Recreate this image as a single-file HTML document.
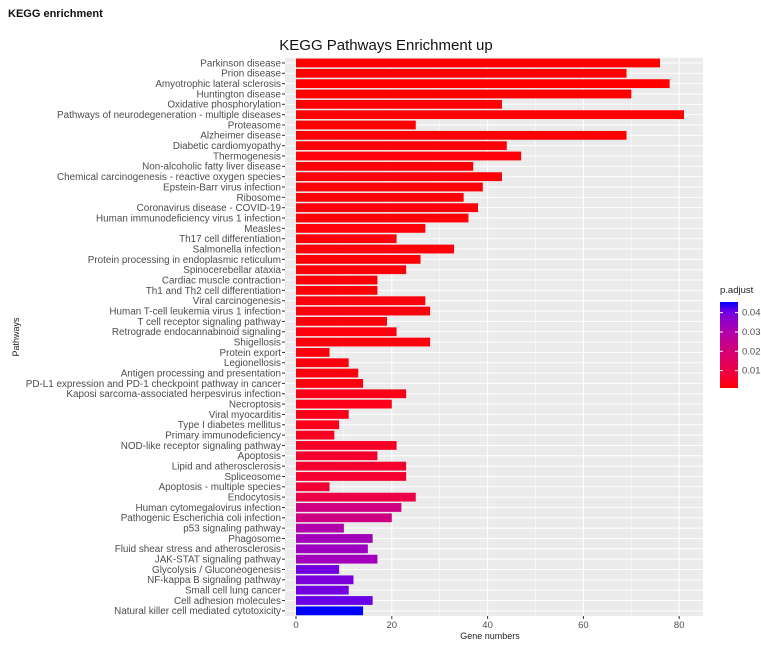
<!DOCTYPE html>
<html><head><meta charset="utf-8"><style>
body{margin:0;background:#fff;font-family:"Liberation Sans",sans-serif}
svg text{font-family:"Liberation Sans",sans-serif}
</style></head><body>
<svg id="c" width="761" height="667" xmlns="http://www.w3.org/2000/svg">
<text x="8" y="17" font-size="11" font-weight="bold" fill="#111">KEGG enrichment</text>
<text x="386" y="50" font-size="15" text-anchor="middle" fill="#111">KEGG Pathways Enrichment up</text>
<g id="plot"></g>
<text x="490" y="639" font-size="9" text-anchor="middle" fill="#222">Gene numbers</text>
<text transform="translate(19,337) rotate(-90)" font-size="9" text-anchor="middle" fill="#222">Pathways</text>
<g id="legend"></g>
</svg>
<script>
const pathways=["Parkinson disease","Prion disease","Amyotrophic lateral sclerosis","Huntington disease","Oxidative phosphorylation","Pathways of neurodegeneration - multiple diseases","Proteasome","Alzheimer disease","Diabetic cardiomyopathy","Thermogenesis","Non-alcoholic fatty liver disease","Chemical carcinogenesis - reactive oxygen species","Epstein-Barr virus infection","Ribosome","Coronavirus disease - COVID-19","Human immunodeficiency virus 1 infection","Measles","Th17 cell differentiation","Salmonella infection","Protein processing in endoplasmic reticulum","Spinocerebellar ataxia","Cardiac muscle contraction","Th1 and Th2 cell differentiation","Viral carcinogenesis","Human T-cell leukemia virus 1 infection","T cell receptor signaling pathway","Retrograde endocannabinoid signaling","Shigellosis","Protein export","Legionellosis","Antigen processing and presentation","PD-L1 expression and PD-1 checkpoint pathway in cancer","Kaposi sarcoma-associated herpesvirus infection","Necroptosis","Viral myocarditis","Type I diabetes mellitus","Primary immunodeficiency","NOD-like receptor signaling pathway","Apoptosis","Lipid and atherosclerosis","Spliceosome","Apoptosis - multiple species","Endocytosis","Human cytomegalovirus infection","Pathogenic Escherichia coli infection","p53 signaling pathway","Phagosome","Fluid shear stress and atherosclerosis","JAK-STAT signaling pathway","Glycolysis / Gluconeogenesis","NF-kappa B signaling pathway","Small cell lung cancer","Cell adhesion molecules","Natural killer cell mediated cytotoxicity"];
const geneCounts=[76,69,78,70,43,81,25,69,44,47,37,43,39,35,38,36,27,21,33,26,23,17,17,27,28,19,21,28,7,11,13,14,23,20,11,9,8,21,17,23,23,7,25,22,20,10,16,15,17,9,12,11,16,14];
const pAdjust=[0.001,0.001,0.001,0.001,0.001,0.001,0.001,0.001,0.0015,0.0015,0.0015,0.0015,0.0015,0.0015,0.0015,0.0015,0.0015,0.0015,0.0015,0.0015,0.0015,0.0015,0.0015,0.002,0.002,0.002,0.002,0.002,0.002,0.002,0.002,0.002,0.003,0.003,0.003,0.003,0.004,0.005,0.006,0.006,0.006,0.007,0.01,0.022,0.022,0.03,0.033,0.034,0.033,0.04,0.039,0.04,0.041,0.0455];
const xTicks=[0,20,40,60,80];
const legendTicks=[0.01,0.02,0.03,0.04];
const NS="http://www.w3.org/2000/svg";
function mk(t,a,p){const e=document.createElementNS(NS,t);for(const k in a)e.setAttribute(k,a[k]);p.appendChild(e);return e;}
const P={l:285,r:703,t:57.8,b:616};
const x0=296,xs=4.79;
const xPos=v=>x0+v*xs;
const step=(P.b-P.t)/pathways.length;
const yPos=i=>P.t+step*(i+0.5);
const pMin=0.001,pMax=0.0455;
function lin(c){c/=255;return c<=0.04045?c/12.92:Math.pow((c+0.055)/1.055,2.4);}
function toLab(r,g,b){r=lin(r);g=lin(g);b=lin(b);let X=(r*0.4124+g*0.3576+b*0.1805)/0.95047,Y=r*0.2126+g*0.7152+b*0.0722,Z=(r*0.0193+g*0.1192+b*0.9505)/1.08883;const f=t=>t>0.008856?Math.cbrt(t):7.787*t+16/116;X=f(X);Y=f(Y);Z=f(Z);return[116*Y-16,500*(X-Y),200*(Y-Z)];}
function fromLab(L,a,b){let Y=(L+16)/116,X=a/500+Y,Z=Y-b/200;const fi=t=>t*t*t>0.008856?t*t*t:(t-16/116)/7.787;X=fi(X)*0.95047;Y=fi(Y);Z=fi(Z)*1.08883;let r=X*3.2406+Y*-1.5372+Z*-0.4986,g=X*-0.9689+Y*1.8758+Z*0.0415,bb=X*0.0557+Y*-0.2040+Z*1.0570;const gm=c=>{c=c<=0.0031308?12.92*c:1.055*Math.pow(c,1/2.4)-0.055;return Math.round(Math.max(0,Math.min(1,c))*255);};return`rgb(${gm(r)},${gm(g)},${gm(bb)})`;}
const LR=toLab(255,0,0),LB=toLab(0,0,255);
function col(p){const t=Math.max(0,Math.min(1,(p-pMin)/(pMax-pMin)));return fromLab(LR[0]+(LB[0]-LR[0])*t,LR[1]+(LB[1]-LR[1])*t,LR[2]+(LB[2]-LR[2])*t);}
const g=document.getElementById('plot');
const bg=mk('rect',{x:P.l,y:P.t,width:P.r-P.l,height:P.b-P.t,fill:'#EBEBEB'},g);


for(let v=10;v<=90;v+=20){const X=xPos(v);if(X<P.r)mk('line',{x1:X,x2:X,y1:P.t,y2:P.b,stroke:'#fff','stroke-width':0.5},g);}
xTicks.forEach(v=>{const X=xPos(v);
const gl=mk('line',{x1:X,x2:X,y1:P.t,y2:P.b,stroke:'#fff','stroke-width':1},g);


mk('line',{x1:X,x2:X,y1:P.b,y2:P.b+3,stroke:'#333'},g);
const t=mk('text',{x:X,y:P.b+12,'font-size':9.5,'text-anchor':'middle',fill:'#4d4d4d'},g);t.textContent=v;

});
pathways.forEach((n,i)=>{const Y=yPos(i);
mk('line',{x1:P.l,x2:P.r,y1:Y,y2:Y,stroke:'#fff','stroke-width':1},g);
mk('line',{x1:P.l-3,x2:P.l,y1:Y,y2:Y,stroke:'#333'},g);
const t=mk('text',{x:P.l-4,y:Y+3.4,'font-size':9.9,'text-anchor':'end',fill:'#4d4d4d'},g);t.textContent=n;


const h=step*0.85;
const b=mk('rect',{x:xPos(0),y:Y-h/2,width:geneCounts[i]*xs,height:h,fill:col(pAdjust[i])},g);

});
const L=document.getElementById('legend');
const lt=mk('text',{x:720,y:293,'font-size':9.5,fill:'#222'},L);lt.textContent='p.adjust';


const defs=mk('defs',{},L);const lg=mk('linearGradient',{id:'lg',x1:0,y1:1,x2:0,y2:0},defs);
for(let k=0;k<=10;k++)mk('stop',{offset:k/10,'stop-color':col(pMin+(pMax-pMin)*k/10)},lg);
const cb=mk('rect',{x:720,y:302,width:18,height:86,fill:'url(#lg)'},L);


const ly=p=>388-(p-pMin)/(pMax-pMin)*86;
legendTicks.forEach(p=>{const Y=ly(p);
mk('line',{x1:720,x2:723,y1:Y,y2:Y,stroke:'#fff'},L);mk('line',{x1:735,x2:738,y1:Y,y2:Y,stroke:'#fff'},L);
const t=mk('text',{x:742,y:Y+3,'font-size':9.5,fill:'#4d4d4d'},L);t.textContent=p.toFixed(2);

});
</script>
</body></html>
